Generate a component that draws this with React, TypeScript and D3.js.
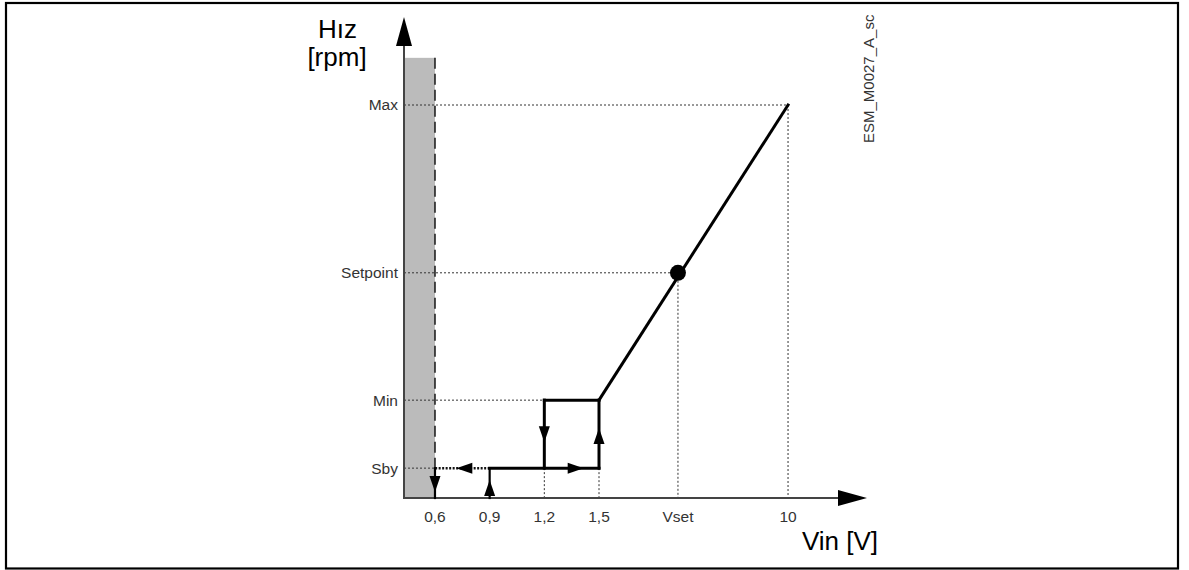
import React from "react";
import * as d3 from "d3";

// ---- data ----
const xTickValues = [0.6, 0.9, 1.2, 1.5, 5.05, 10];
const xTickLabels = ["0,6", "0,9", "1,2", "1,5", "Vset", "10"];
const yLevelNames = ["Sby", "Min", "Setpoint", "Max"];
const yLevelValues = [7.6, 24.9, 57.3, 100];
const cutoffV = 0.6; // dashed limit / shaded band
const bandTop = 112;
const vset = 5.05;

// hysteresis + ramp segments: [x0, level0, x1, level1, arrowFraction|null]
const segFrom = [
  [0.9, 0, 0.9, 7.6, 0.6],
  [0.9, 7.6, 1.5, 7.6, 0.86],
  [1.5, 7.6, 1.5, 24.9, 0.59],
  [1.5, 24.9, 10, 100, null],
  [1.2, 24.9, 1.5, 24.9, null],
  [1.2, 24.9, 1.2, 7.6, 0.62],
  [0.6, 7.6, 0.6, 0, 0.8],
];
const dottedSeg = [0.9, 7.6, 0.6, 7.6, 0.61];

const W = 1189;
const H = 570;

export default function App() {
  const x = d3.scaleLinear().domain([0.43, 1.5, 13.55]).range([404, 599, 867]);
  const y = d3.scaleLinear().domain([0, 100]).range([498, 105]);
  const yTop = 17;
  const xEnd = x.range()[2];
  const x0 = x(0.43);
  const y0 = y(0);

  const line = d3.line<[number, number]>();

  const arrowHead = (tx: number, ty: number, dx: number, dy: number, len: number, hw: number) => {
    const bx = tx - dx * len;
    const by = ty - dy * len;
    const px = -dy;
    const py = dx;
    return `M${tx},${ty}L${bx + px * hw},${by + py * hw}L${bx - px * hw},${by - py * hw}Z`;
  };

  const segArrow = (s: (number | null)[]) => {
    const [a, b, c, d, f] = s as number[];
    const X0 = x(a), Y0 = y(b), X1 = x(c), Y1 = y(d);
    const L = Math.hypot(X1 - X0, Y1 - Y0);
    const dx = (X1 - X0) / L, dy = (Y1 - Y0) / L;
    const tx = X0 + (X1 - X0) * f, ty = Y0 + (Y1 - Y0) * f;
    return arrowHead(tx, ty, dx, dy, 16, 5.5);
  };

  const font = "'Liberation Sans', Arial, Helvetica, sans-serif";
  const dot = "2 2";

  return (
    <svg width={W} height={H} style={{ position: "absolute", left: 0, top: 0 }} fontFamily={font}>
      <rect x={0} y={0} width={W} height={H} fill="#fff" />
      <rect x={6} y={3} width={1172} height={565.5} fill="none" stroke="#000" strokeWidth={2.2} />

      {/* shaded band below cutoff */}
      <rect x={x0} y={y(bandTop)} width={x(cutoffV) - x0} height={y0 - y(bandTop)} fill="#bbbbbb" />
      <line x1={x(cutoffV)} x2={x(cutoffV)} y1={y(bandTop)} y2={y0} stroke="#222" strokeWidth={1.6} strokeDasharray="11 5" />

      {/* dotted reference lines */}
      {yLevelNames.map((n, i) => {
        const lv = yLevelValues[i];
        let xr = x0;
        if (n === "Max") xr = x(10);
        if (n === "Setpoint") xr = x(vset);
        if (n === "Min") xr = x(1.2);
        if (n === "Sby") xr = x(0.6);
        return (
          <line key={n} x1={x0} x2={xr} y1={y(lv)} y2={y(lv)} stroke="#333" strokeWidth={1} strokeDasharray={dot} />
        );
      })}
      <line x1={x(10)} x2={x(10)} y1={y(100)} y2={y0} stroke="#333" strokeWidth={1} strokeDasharray={dot} />
      <line x1={x(vset)} x2={x(vset)} y1={y(57.3)} y2={y0} stroke="#333" strokeWidth={1} strokeDasharray={dot} />
      <line x1={x(1.2)} x2={x(1.2)} y1={y(7.6)} y2={y0} stroke="#333" strokeWidth={1} strokeDasharray={dot} />
      <line x1={x(1.5)} x2={x(1.5)} y1={y(7.6)} y2={y0} stroke="#333" strokeWidth={1} strokeDasharray={dot} />
      <line x1={x(1.2)} x2={x(1.2)} y1={y(24.9)} y2={y(7.6)} stroke="#333" strokeWidth={1} strokeDasharray={dot} />

      {/* axes */}
      <line x1={x0} x2={x0} y1={y0} y2={yTop + 20} stroke="#444" strokeWidth={2} />
      <path d={arrowHead(x0, yTop, 0, -1, 29, 8)} fill="#000" />
      <line x1={x0 - 1} x2={xEnd - 20} y1={y0} y2={y0} stroke="#444" strokeWidth={2} />
      <path d={arrowHead(xEnd, y0, 1, 0, 29, 8)} fill="#000" />

      {/* dotted return segment */}
      <path
        d={line([[x(dottedSeg[0]), y(dottedSeg[1])], [x(dottedSeg[2]), y(dottedSeg[3])]])!}
        stroke="#111"
        strokeWidth={2.5}
        strokeDasharray="2 1.5"
        fill="none"
      />
      <path d={segArrow(dottedSeg)} fill="#000" />

      {/* solid segments */}
      {segFrom.map((s, i) => {
        const vertical = s[0] === s[2];
        const short = vertical && (s[1] === 0 || s[3] === 0);
        return (
          <g key={i}>
            <path
              d={line([[x(s[0] as number), y(s[1] as number)], [x(s[2] as number), y(s[3] as number)]])!}
              stroke="#000"
              strokeWidth={short ? 2.2 : 3}
              strokeLinecap="square"
              fill="none"
            />
            {s[4] !== null && <path d={segArrow(s)} fill="#000" />}
          </g>
        );
      })}

      {/* setpoint dot */}
      <circle cx={x(vset)} cy={y(57.3)} r={8} fill="#000" />

      {/* y level labels */}
      {yLevelNames.map((n, i) => (
        <text key={n} x={398} y={y(yLevelValues[i])} dy="0.35em" textAnchor="end" fontSize={15.5} fill="#333">
          {n}
        </text>
      ))}

      {/* x tick labels */}
      {xTickValues.map((v, i) => (
        <text key={i} x={x(v)} y={521.5} textAnchor="middle" fontSize={15.5} fill="#333">
          {xTickLabels[i]}
        </text>
      ))}

      {/* axis titles */}
      <text x={337.5} y={37.5} textAnchor="middle" fontSize={26} fill="#000">Hız</text>
      <text x={337} y={66} textAnchor="middle" fontSize={26} fill="#000">[rpm]</text>
      <text x={840} y={549.5} textAnchor="middle" fontSize={26} fill="#000">Vin [V]</text>

      <text transform="translate(874,143) rotate(-90)" textAnchor="start" fontSize={15} fill="#333">
        ESM_M0027_A_sc
      </text>
    </svg>
  );
}
